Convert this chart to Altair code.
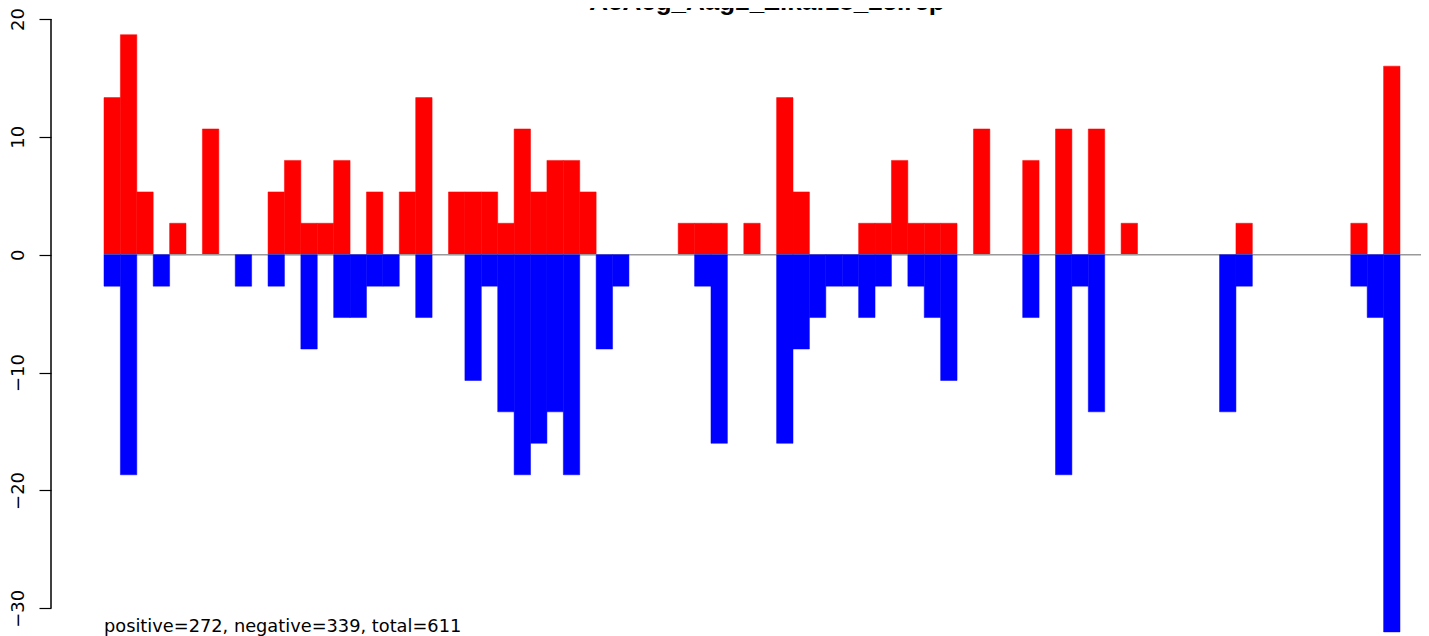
import altair as alt
import pandas as pd

title_text = "AeAeg_Aag2_Zika:18_23.rep"
footer_text = "positive=272, negative=339, total=611"
y_ticks = [-30, -20, -10, 0, 10, 20]

positive = [
    13.33, 18.67, 5.33, 0, 2.67, 0, 10.67, 0, 0, 0,
    5.33, 8, 2.67, 2.67, 8, 0, 5.33, 0, 5.33, 13.33,
    0, 5.33, 5.33, 5.33, 2.67, 10.67, 5.33, 8, 8, 5.33,
    0, 0, 0, 0, 0, 2.67, 2.67, 2.67, 0, 2.67,
    0, 13.33, 5.33, 0, 0, 0, 2.67, 2.67, 8, 2.67,
    2.67, 2.67, 0, 10.67, 0, 0, 8, 0, 10.67, 0,
    10.67, 0, 2.67, 0, 0, 0, 0, 0, 0, 2.67,
    0, 0, 0, 0, 0, 0, 2.67, 0, 16,
]
negative = [
    -2.67, -18.67, 0, -2.67, 0, 0, 0, 0, -2.67, 0,
    -2.67, 0, -8, 0, -5.33, -5.33, -2.67, -2.67, 0, -5.33,
    0, 0, -10.67, -2.67, -13.33, -18.67, -16, -13.33, -18.67, 0,
    -8, -2.67, 0, 0, 0, 0, -2.67, -16, 0, 0,
    0, -16, -8, -5.33, -2.67, -2.67, -5.33, -2.67, 0, -2.67,
    -5.33, -10.67, 0, 0, 0, 0, -5.33, 0, -18.67, -2.67,
    -13.33, 0, 0, 0, 0, 0, 0, 0, -13.33, -2.67,
    0, 0, 0, 0, 0, 0, -2.67, -5.33, -32,
]

W, H = 1370, 607
X_DOMAIN = [-3.23, 80.28]
Y_DOMAIN = [-31.5, 20]

pos_rows, neg_rows = [], []
for i, (p, n) in enumerate(zip(positive, negative)):
    if p:
        pos_rows.append({"bin": i, "end": i + 1, "base": 0, "value": p})
    if n:
        neg_rows.append({"bin": i, "end": i + 1, "base": 0, "value": n})
pos_df = pd.DataFrame(pos_rows)
neg_df = pd.DataFrame(neg_rows)

xs = alt.Scale(domain=X_DOMAIN, nice=False, zero=False)
ys = alt.Scale(domain=Y_DOMAIN, nice=False, zero=False)

y_axis = alt.Axis(
    values=y_ticks,
    domain=False,
    grid=False,
    ticks=True,
    tickSize=12,
    tickColor="black",
    tickWidth=1.2,
    labelAngle=270,
    labelAlign="center",
    labelBaseline="alphabetic",
    labelFont="DejaVu Sans",
    labelFontSize=18,
    labelColor="black",
    labelPadding=16,
    labelFlush=False,
    labelOverlap=False,
    title=None,
)

pos_bars = alt.Chart(pos_df).mark_rect(
    color="#ff0000", stroke="#ff0000", strokeWidth=0.5
).encode(
    x=alt.X("bin:Q", scale=xs, axis=None),
    x2="end:Q",
    y=alt.Y("value:Q", scale=ys, axis=y_axis),
    y2="base:Q",
)

zero_line = alt.Chart(pd.DataFrame({"x0": [0], "x1": [X_DOMAIN[1]], "z": [0]})).mark_rule(
    color="#9a9a9a", strokeWidth=1.5
).encode(
    x=alt.X("x0:Q", scale=xs, axis=None),
    x2="x1:Q",
    y=alt.Y("z:Q", scale=ys, axis=y_axis),
)

neg_bars = alt.Chart(neg_df).mark_rect(
    color="#0000ff", stroke="#0000ff", strokeWidth=0.5
).encode(
    x=alt.X("bin:Q", scale=xs, axis=None),
    x2="end:Q",
    y=alt.Y("value:Q", scale=ys, axis=y_axis),
    y2="base:Q",
)

axis_line = alt.Chart(pd.DataFrame({"a": [y_ticks[0]], "b": [y_ticks[-1]]})).mark_rule(
    color="black", strokeWidth=1.5
).encode(
    x=alt.value(0),
    y=alt.Y("a:Q", scale=ys, axis=y_axis),
    y2="b:Q",
)

title = alt.Chart(pd.DataFrame({"t": [title_text]})).mark_text(
    font="Liberation Sans", fontWeight="bold", fontSize=26,
    align="center", baseline="alphabetic", color="black"
).encode(
    text="t:N",
    x=alt.value(716),
    y=alt.value(-9),
)

footer = alt.Chart(pd.DataFrame({"t": [footer_text], "x0": [0]})).mark_text(
    font="DejaVu Sans", fontSize=17.8, align="left", baseline="alphabetic", color="black"
).encode(
    text="t:N",
    x=alt.X("x0:Q", scale=xs, axis=None),
    y=alt.value(613),
)

chart = alt.layer(pos_bars, zero_line, neg_bars, axis_line, title, footer).properties(
    width=W,
    height=H,
    autosize=alt.AutoSizeParams(type="none"),
    padding={"left": 43, "top": 11, "right": 0, "bottom": 10},
    background="white",
).configure_view(stroke=None)

chart.save("out.html", embed_options={"renderer": "svg", "actions": False})
